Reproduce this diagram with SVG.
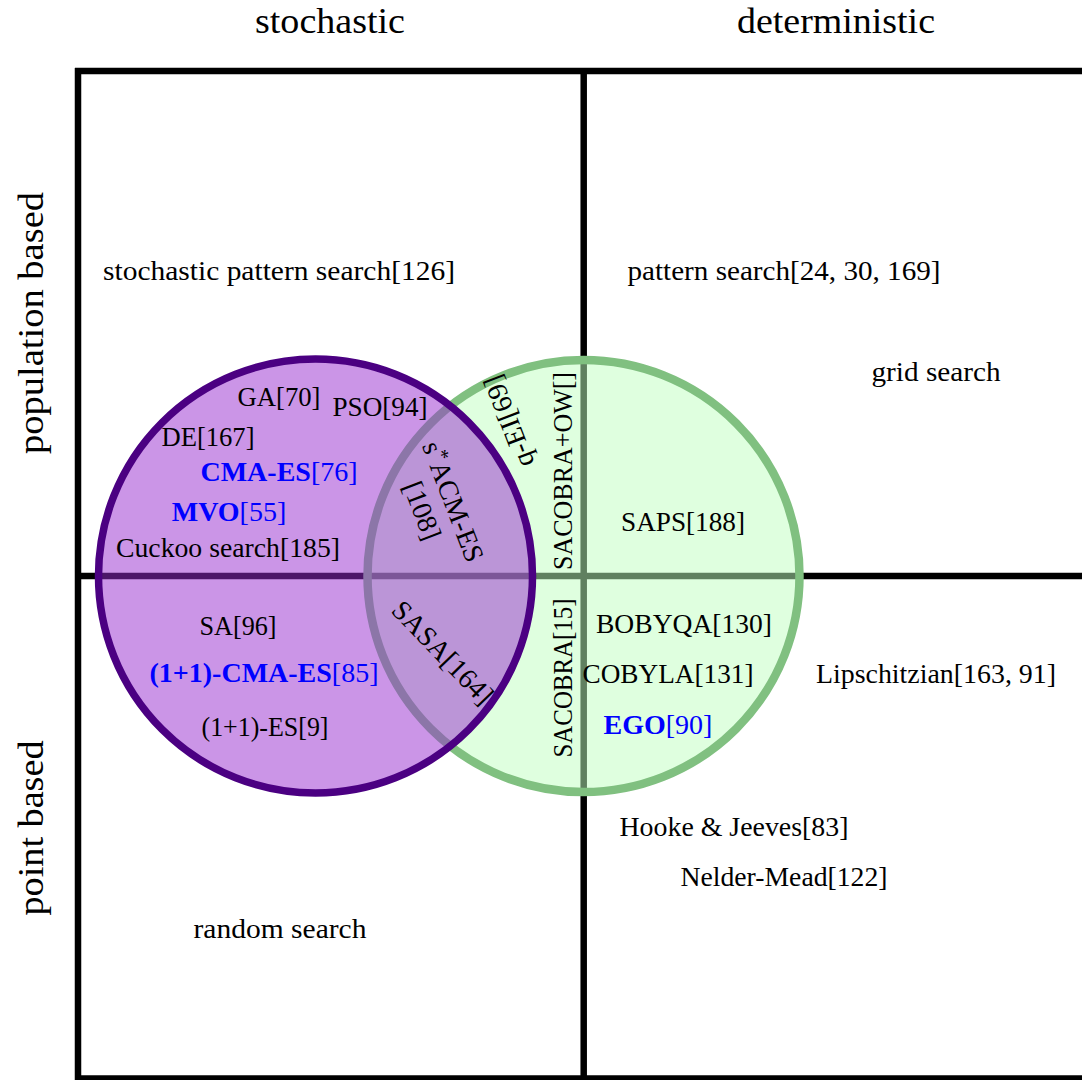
<svg xmlns="http://www.w3.org/2000/svg" width="1082" height="1080" viewBox="0 0 1082 1080">
<style>
text{font-family:"Liberation Serif","Times New Roman",serif;fill:#000}
.hd{font-size:35px}
.lb{font-size:28px}
.b{font-weight:bold}
.blue{fill:#0000ff}
.frame{stroke:#000;stroke-width:6.5;fill:none}
</style>
<rect width="1082" height="1080" fill="#fff"/>
<g id="frame">
<line class="frame" x1="75" y1="71" x2="1082" y2="71"/>
<line class="frame" x1="78" y1="68" x2="78" y2="1080"/>
<line class="frame" x1="583.7" y1="71" x2="583.7" y2="1080"/>
<line class="frame" x1="78" y1="576" x2="1082" y2="576"/>
<line class="frame" x1="75" y1="1078.5" x2="1082" y2="1078.5"/>
</g>
<g id="headers">
<text class="hd" x="330" y="33" text-anchor="middle" textLength="150" lengthAdjust="spacingAndGlyphs">stochastic</text>
<text class="hd" x="836" y="33" text-anchor="middle" textLength="198" lengthAdjust="spacingAndGlyphs">deterministic</text>
<text class="hd" transform="translate(43,323) rotate(-90)" text-anchor="middle" textLength="262" lengthAdjust="spacingAndGlyphs">population based</text>
<text class="hd" transform="translate(43,828) rotate(-90)" text-anchor="middle" textLength="175" lengthAdjust="spacingAndGlyphs">point based</text>
</g>
<g id="circles">
<circle id="deterministic-circle" cx="583.5" cy="576" r="216" fill="rgb(192,255,192)" fill-opacity="0.5" stroke="#80c080" stroke-width="8.5"/>
<circle id="stochastic-circle" cx="315.5" cy="576" r="217" fill="rgb(152,44,208)" fill-opacity="0.5" stroke="#4b0082" stroke-width="7.5"/>
</g>
<g id="labels" class="lb">
<text class="lb" x="279" y="280" text-anchor="middle" textLength="352" lengthAdjust="spacingAndGlyphs">stochastic pattern search[126]</text>
<text class="lb" x="784" y="280" text-anchor="middle" textLength="313" lengthAdjust="spacingAndGlyphs">pattern search[24, 30, 169]</text>
<text class="lb" x="936" y="381" text-anchor="middle" textLength="129" lengthAdjust="spacingAndGlyphs">grid search</text>
<text class="lb" x="279" y="406" text-anchor="middle" textLength="83" lengthAdjust="spacingAndGlyphs">GA[70]</text>
<text class="lb" x="380" y="416" text-anchor="middle" textLength="95" lengthAdjust="spacingAndGlyphs">PSO[94]</text>
<text class="lb" x="208" y="446" text-anchor="middle" textLength="93" lengthAdjust="spacingAndGlyphs">DE[167]</text>
<text class="lb blue" x="279" y="481" text-anchor="middle"><tspan class="b">CMA-ES</tspan>[76]</text>
<text class="lb blue" x="229" y="521" text-anchor="middle"><tspan class="b">MVO</tspan>[55]</text>
<text class="lb" x="228" y="557" text-anchor="middle" textLength="224" lengthAdjust="spacingAndGlyphs">Cuckoo search[185]</text>
<text class="lb" x="683" y="531" text-anchor="middle" textLength="124" lengthAdjust="spacingAndGlyphs">SAPS[188]</text>
<text class="lb" x="238" y="635" text-anchor="middle" textLength="77" lengthAdjust="spacingAndGlyphs">SA[96]</text>
<text class="lb blue" x="264" y="682" text-anchor="middle"><tspan class="b">(1+1)-CMA-ES</tspan>[85]</text>
<text class="lb" x="265" y="736" text-anchor="middle" textLength="127" lengthAdjust="spacingAndGlyphs">(1+1)-ES[9]</text>
<text class="lb" x="684" y="633" text-anchor="middle" textLength="176" lengthAdjust="spacingAndGlyphs">BOBYQA[130]</text>
<text class="lb" x="668" y="683" text-anchor="middle" textLength="171" lengthAdjust="spacingAndGlyphs">COBYLA[131]</text>
<text class="lb blue" x="658" y="734" text-anchor="middle"><tspan class="b">EGO</tspan>[90]</text>
<text class="lb" x="936" y="683" text-anchor="middle" textLength="240" lengthAdjust="spacingAndGlyphs">Lipschitzian[163, 91]</text>
<text class="lb" x="734" y="836" text-anchor="middle" textLength="229" lengthAdjust="spacingAndGlyphs">Hooke &amp; Jeeves[83]</text>
<text class="lb" x="784" y="886" text-anchor="middle" textLength="207" lengthAdjust="spacingAndGlyphs">Nelder-Mead[122]</text>
<text class="lb" x="280" y="938" text-anchor="middle" textLength="173" lengthAdjust="spacingAndGlyphs">random search</text>
<text class="lb" transform="translate(572,471) rotate(-90)" text-anchor="middle" textLength="198" lengthAdjust="spacingAndGlyphs">SACOBRA+OW[]</text>
<text class="lb" transform="translate(572,678) rotate(-90)" text-anchor="middle" textLength="159" lengthAdjust="spacingAndGlyphs">SACOBRA[15]</text>
<text class="lb" transform="translate(517.5,418) rotate(-111)" text-anchor="middle">q-EI[69]</text>
<text class="lb" transform="translate(444.5,505) rotate(69)" text-anchor="middle">s<tspan dy="-9" font-size="20">*</tspan><tspan dy="9">ACM-ES</tspan></text>
<text class="lb" transform="translate(413.5,514) rotate(69)" text-anchor="middle">[108]</text>
<text class="lb" transform="translate(436,659) rotate(46)" text-anchor="middle">SASA[164]</text>
</g>
</svg>
